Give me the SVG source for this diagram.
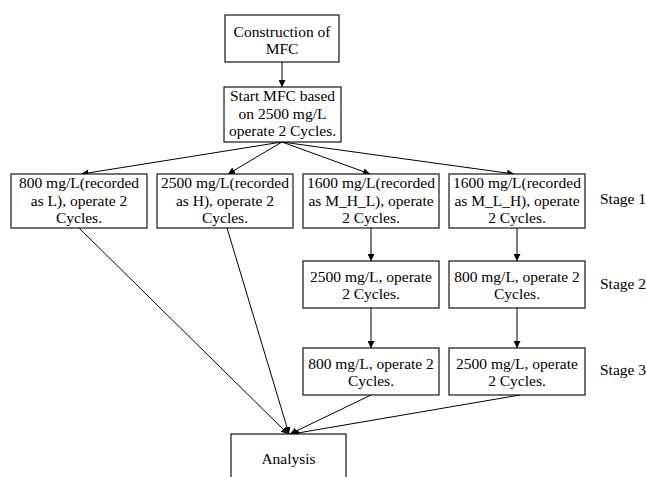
<svg xmlns="http://www.w3.org/2000/svg" width="646" height="477" viewBox="0 0 646 477">
<style>
.box{fill:#fff;stroke:#000;stroke-width:1.1}
.t{font-family:"Liberation Serif","Times New Roman",serif;font-size:15.5px;fill:#000;text-anchor:middle}
.s{font-family:"Liberation Serif","Times New Roman",serif;font-size:15.5px;fill:#000}
.c{stroke:#000;stroke-width:1;fill:none;marker-end:url(#ah)}
</style>
<defs>
<marker id="ah" markerUnits="userSpaceOnUse" markerWidth="8" markerHeight="7" refX="7" refY="3.5" orient="auto">
<path d="M0,0 L7,3.5 L0,7 z" fill="#000"/>
</marker>
</defs>
<rect width="646" height="477" fill="#fff"/>
<g id="connectors">
<line class="c" x1="282" y1="62" x2="282" y2="87"/>
<line class="c" x1="282" y1="142" x2="81.5" y2="174"/>
<line class="c" x1="282" y1="142" x2="228" y2="174"/>
<line class="c" x1="282" y1="142" x2="370" y2="174"/>
<line class="c" x1="282" y1="142" x2="514" y2="174"/>
<line class="c" x1="371" y1="228" x2="371" y2="261"/>
<line class="c" x1="517" y1="228" x2="517" y2="261"/>
<line class="c" x1="371" y1="308" x2="371" y2="348"/>
<line class="c" x1="517" y1="308" x2="517" y2="348"/>
<line class="c" x1="79" y1="228" x2="288" y2="434"/>
<line class="c" x1="227" y1="228" x2="289" y2="434"/>
<line class="c" x1="371" y1="395" x2="290" y2="434"/>
<line class="c" x1="520" y1="395" x2="292" y2="434"/>
</g>
<g id="construction">
<rect class="box" x="225" y="15" width="114" height="47"/>
<text class="t" x="282" y="36.5">Construction of</text>
<text class="t" x="282" y="54">MFC</text>
</g>
<g id="start">
<rect class="box" x="224" y="87" width="117" height="55"/>
<text class="t" x="282.5" y="101">Start MFC based</text>
<text class="t" x="282.5" y="118.5">on 2500 mg/L</text>
<text class="t" x="282.5" y="136">operate 2 Cycles.</text>
</g>
<g id="low">
<rect class="box" x="11" y="174" width="136" height="54"/>
<text class="t" x="79" y="188">800 mg/L(recorded</text>
<text class="t" x="79" y="205.5">as L), operate 2</text>
<text class="t" x="79" y="223">Cycles.</text>
</g>
<g id="high">
<rect class="box" x="157" y="174" width="136" height="54"/>
<text class="t" x="225" y="188">2500 mg/L(recorded</text>
<text class="t" x="225" y="205.5">as H), operate 2</text>
<text class="t" x="225" y="223">Cycles.</text>
</g>
<g id="mhl">
<rect class="box" x="303" y="174" width="136" height="54"/>
<text class="t" x="371" y="188">1600 mg/L(recorded</text>
<text class="t" x="371" y="205.5">as M_H_L), operate</text>
<text class="t" x="371" y="223">2 Cycles.</text>
</g>
<g id="mlh">
<rect class="box" x="449" y="174" width="136" height="54"/>
<text class="t" x="517" y="188">1600 mg/L(recorded</text>
<text class="t" x="517" y="205.5">as M_L_H), operate</text>
<text class="t" x="517" y="223">2 Cycles.</text>
</g>
<g id="mhl-s2">
<rect class="box" x="303" y="261" width="136" height="47"/>
<text class="t" x="371" y="281.5">2500 mg/L, operate</text>
<text class="t" x="371" y="298.5">2 Cycles.</text>
</g>
<g id="mlh-s2">
<rect class="box" x="449" y="261" width="136" height="47"/>
<text class="t" x="517" y="281.5">800 mg/L, operate 2</text>
<text class="t" x="517" y="298.5">Cycles.</text>
</g>
<g id="mhl-s3">
<rect class="box" x="303" y="348" width="136" height="47"/>
<text class="t" x="371" y="368.5">800 mg/L, operate 2</text>
<text class="t" x="371" y="386">Cycles.</text>
</g>
<g id="mlh-s3">
<rect class="box" x="449" y="348" width="136" height="47"/>
<text class="t" x="517" y="368.5">2500 mg/L, operate</text>
<text class="t" x="517" y="386">2 Cycles.</text>
</g>
<g id="analysis">
<rect class="box" x="231" y="434" width="115" height="60"/>
<text class="t" x="288.5" y="463.5">Analysis</text>
</g>
<g id="stages">
<text class="s" x="600" y="203.5">Stage 1</text>
<text class="s" x="600" y="288.5">Stage 2</text>
<text class="s" x="600" y="375">Stage 3</text>
</g>
</svg>
